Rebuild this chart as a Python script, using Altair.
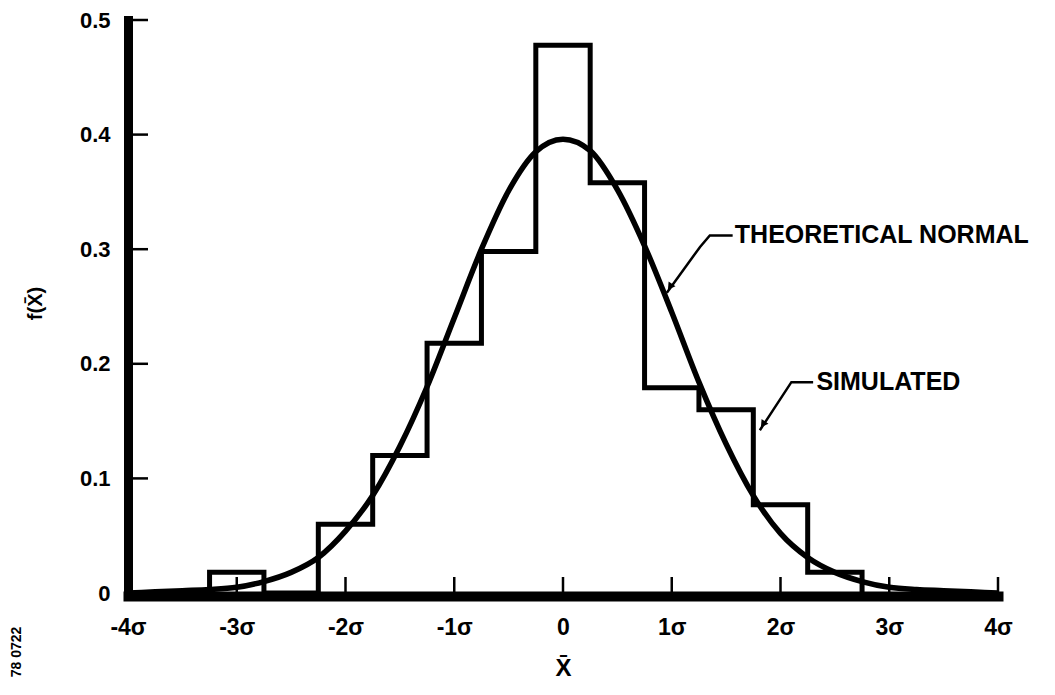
import altair as alt
import pandas as pd

# ---------------- data ----------------
hist_edges = [-3.25, -2.75, -2.25, -1.75, -1.25, -0.75, -0.25, 0.25, 0.75, 1.25, 1.75, 2.25, 2.75]
hist_heights = [0.018, 0.0, 0.06, 0.12, 0.218, 0.298, 0.478, 0.358, 0.179, 0.16, 0.077, 0.018]

curve_x = [-4.0, -3.75, -3.5, -3.25, -3.0, -2.75, -2.5, -2.25, -2.0, -1.75, -1.5, -1.25, -1.0,
           -0.75, -0.5, -0.25, 0.0, 0.25, 0.5, 0.75, 1.0, 1.25, 1.5, 1.75, 2.0, 2.25, 2.5,
           2.75, 3.0, 3.25, 3.5, 3.75, 4.0]
curve_y = [0.0, 0.001, 0.002, 0.003, 0.005, 0.010, 0.018, 0.031, 0.054, 0.085, 0.128, 0.180, 0.240,
           0.300, 0.351, 0.385, 0.396, 0.386, 0.352, 0.303, 0.245, 0.184, 0.130, 0.085, 0.052, 0.031, 0.018,
           0.010, 0.005, 0.003, 0.002, 0.001, 0.0]

x_tick_values = [-4, -3, -2, -1, 0, 1, 2, 3, 4]
x_tick_labels = ["-4σ", "-3σ", "-2σ", "-1σ", "0", "1σ", "2σ", "3σ", "4σ"]
y_tick_values = [0, 0.1, 0.2, 0.3, 0.4, 0.5]
y_tick_labels = ["0", "0.1", "0.2", "0.3", "0.4", "0.5"]

label_names = ["THEORETICAL NORMAL", "SIMULATED"]
label_x = [1.58, 2.33]
label_y = [0.312, 0.184]

leader_theo_x = [1.56, 1.35, 1.26, 0.955]
leader_theo_y = [0.312, 0.312, 0.302, 0.262]
leader_sim_x = [2.30, 2.10, 1.81]
leader_sim_y = [0.184, 0.184, 0.142]
arrow_x = [0.99, 1.845]
arrow_y = [0.268, 0.148]

FONT = "Liberation Sans"
W, H = 870, 573

# ---------------- tables ----------------
hx, hy = [hist_edges[0]], [0.0]
for i, h in enumerate(hist_heights):
    hx += [hist_edges[i], hist_edges[i + 1]]
    hy += [h, h]
hx.append(hist_edges[-1])
hy.append(0.0)
hist_df = pd.DataFrame({"x": hx, "y": hy, "o": list(range(len(hx)))})
curve_df = pd.DataFrame({"x": curve_x, "y": curve_y})

lead_df = pd.DataFrame({
    "x": leader_theo_x + leader_sim_x,
    "y": leader_theo_y + leader_sim_y,
    "g": ["t"] * len(leader_theo_x) + ["s"] * len(leader_sim_x),
    "o": list(range(len(leader_theo_x))) + list(range(len(leader_sim_x))),
})
arrow_df = pd.DataFrame({"x": arrow_x, "y": arrow_y})
text_df = pd.DataFrame({"x": label_x, "y": label_y, "t": label_names})
xt_df = pd.DataFrame({"x": [v for v in x_tick_values if v != -4]})
yt_df = pd.DataFrame({"y": [v for v in y_tick_values if v != 0]})


def lookup_expr(values, labels):
    vals = "[" + ",".join(str(v) for v in values) + "]"
    labs = "[" + ",".join(f"'{l}'" for l in labels) + "]"
    return f"{labs}[indexof({vals}, datum.value)]"


xlab_expr = lookup_expr(x_tick_values, x_tick_labels)
ylab_expr = lookup_expr(y_tick_values, y_tick_labels)

xscale = alt.Scale(domain=[-4, 4], nice=False, zero=False)
yscale = alt.Scale(domain=[0, 0.5], nice=False)

x_axis = alt.Axis(
    values=x_tick_values, labelExpr=xlab_expr, ticks=False, grid=False,
    domainColor="black", domainWidth=10, domainCap="square", offset=3,
    labelFont=FONT, labelFontSize=23, labelFontWeight="bold", labelColor="black",
    labelPadding=20, labelFlush=False, labelOverlap=False,
    title="X\u0304", titleFont=FONT, titleFontSize=24, titleFontWeight="bold",
    titleX=435, titleY=72, titleBaseline="middle", titleColor="black",
)
y_axis = alt.Axis(
    values=y_tick_values, labelExpr=ylab_expr, ticks=False, grid=False,
    domainColor="black", domainWidth=9, domainCap="square",
    labelFont=FONT, labelFontSize=22, labelFontWeight="bold", labelColor="black",
    labelPadding=18, labelFlush=False, labelOverlap=False,
    title="f(X\u0304)", titleFont=FONT, titleFontSize=20, titleFontWeight="bold",
    titleAngle=270, titleX=-93, titleY=283, titleAlign="center", titleBaseline="middle",
    titleColor="black",
)

X = alt.X("x:Q", scale=xscale, axis=x_axis)
Y = alt.Y("y:Q", scale=yscale, axis=y_axis)

curve = alt.Chart(curve_df).mark_line(
    color="black", strokeWidth=5.5, interpolate="monotone"
).encode(x=X, y=Y)

hist = alt.Chart(hist_df).mark_line(
    color="black", strokeWidth=5, strokeJoin="miter", strokeCap="square"
).encode(x=X, y=Y, order="o:Q")

xticks = alt.Chart(xt_df).mark_rule(color="black", strokeWidth=2.5).encode(
    x=X, y=alt.value(H - 16), y2=alt.value(H),
)
yticks = alt.Chart(yt_df).mark_rule(color="black", strokeWidth=2.5).encode(
    y=alt.Y("y:Q", scale=yscale, axis=y_axis),
    x=alt.value(0), x2=alt.value(20),
)

leaders = alt.Chart(lead_df).mark_line(color="black", strokeWidth=2.5).encode(
    x=X, y=Y, detail="g:N", order="o:Q",
)
arrows = alt.Chart(arrow_df).mark_point(
    shape="triangle", filled=True, size=70, angle=215, color="black", opacity=1
).encode(x=X, y=Y)
labels = alt.Chart(text_df).mark_text(
    align="left", baseline="middle", font=FONT, fontSize=25, fontWeight="bold", color="black"
).encode(x=X, y=Y, text="t:N")
fignum = alt.Chart(pd.DataFrame({"t": ["78 0722"]})).mark_text(
    angle=270, font=FONT, fontSize=14, fontWeight="bold", color="black",
    align="center", baseline="middle"
).encode(x=alt.value(-111), y=alt.value(632), text="t:N")

chart = alt.layer(hist, curve, xticks, yticks, leaders, arrows, labels, fignum).properties(
    width=W, height=H,
    autosize=alt.AutoSizeParams(type="none"),
    padding={"left": 120, "top": 12, "right": 45, "bottom": 94},
    background="white",
).configure_view(stroke=None)

chart.save("out.html", embed_options={"renderer": "svg", "actions": False})
